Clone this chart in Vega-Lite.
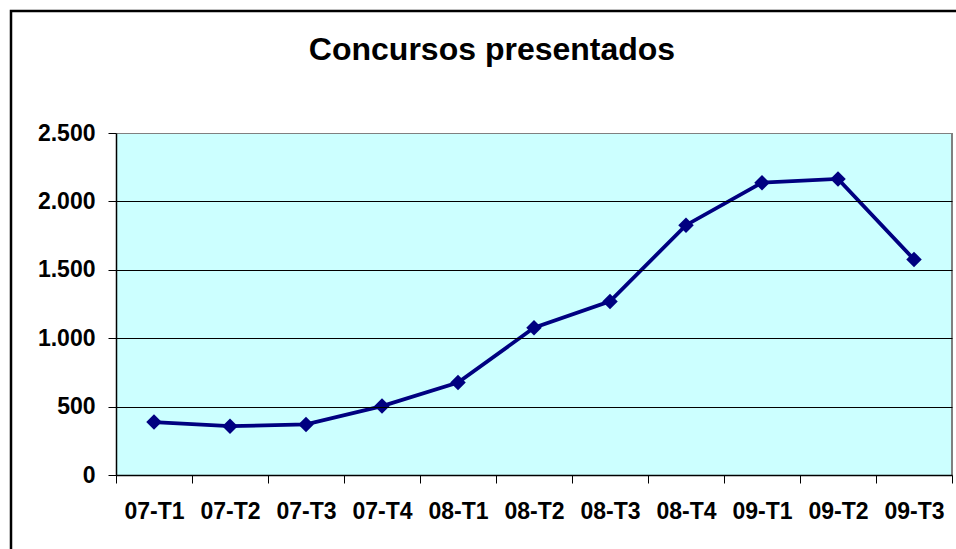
{
  "$schema": "https://vega.github.io/schema/vega-lite/v6.json",
  "width": 950,
  "height": 548,
  "autosize": {"type": "none"},
  "padding": {"left": 11, "top": 11, "right": -5, "bottom": -10},
  "background": "white",
  "config": {
    "view": {"stroke": "black", "strokeWidth": 2.5},
    "font": "Liberation Sans"
  },
  "title": {
    "text": "Concursos presentados",
    "font": "Liberation Sans",
    "fontSize": 32,
    "fontWeight": "bold",
    "color": "black",
    "anchor": "middle",
    "frame": "group",
    "baseline": "alphabetic",
    "offset": -81,
    "dx": 6
  },
  "data": {
    "values": [
      {"cat": "07-T1", "value": 387},
      {"cat": "07-T2", "value": 357},
      {"cat": "07-T3", "value": 370},
      {"cat": "07-T4", "value": 504},
      {"cat": "08-T1", "value": 676},
      {"cat": "08-T2", "value": 1076},
      {"cat": "08-T3", "value": 1269},
      {"cat": "08-T4", "value": 1826},
      {"cat": "09-T1", "value": 2137},
      {"cat": "09-T2", "value": 2164},
      {"cat": "09-T3", "value": 1576}
    ]
  },
  "encoding": {
    "x": {
      "field": "cat",
      "type": "nominal",
      "sort": null,
      "scale": {"range": [105, 941], "paddingInner": 0, "paddingOuter": 0},
      "axis": {
        "title": null,
        "orient": "bottom",
        "offset": -84,
        "zindex": 1,
        "labelAngle": 0,
        "labelFont": "Liberation Sans",
        "labelFontSize": 23,
        "labelFontWeight": "bold",
        "labelColor": "black",
        "labelPadding": 17,
        "tickBand": "extent",
        "tickSize": 8,
        "tickColor": "black",
        "tickWidth": 1,
        "domainColor": "black",
        "domainWidth": 1.5,
        "grid": false
      }
    }
  },
  "layer": [
    {
      "mark": {"type": "rect", "fill": "#CCFFFF", "stroke": null},
      "encoding": {
        "y": {"datum": 0, "type": "quantitative"},
        "y2": {"datum": 2500}
      }
    },
    {
      "mark": {"type": "rule", "color": "#808080", "strokeWidth": 1.5},
      "encoding": {
        "x": {"datum": "09-T3", "bandPosition": 1},
        "y": {"datum": 0, "type": "quantitative"},
        "y2": {"datum": 2500}
      }
    },
    {
      "mark": {"type": "line", "color": "#000080", "strokeWidth": 3.8},
      "encoding": {
        "y": {
          "field": "value",
          "type": "quantitative",
          "scale": {"domain": [0, 2500], "range": [464, 122], "nice": false},
          "axis": {
            "title": null,
            "orient": "left",
            "offset": -105,
            "zindex": 1,
            "values": [0, 500, 1000, 1500, 2000, 2500],
            "labelExpr": "replace(format(datum.value, ','), ',', '.')",
            "labelFont": "Liberation Sans",
            "labelFontSize": 23,
            "labelFontWeight": "bold",
            "labelColor": "black",
            "labelPadding": 13,
            "tickSize": 8,
            "tickColor": "black",
            "tickWidth": 1,
            "domainColor": "black",
            "domainWidth": 1.5,
            "grid": true,
            "gridWidth": 1,
            "gridColor": {"condition": {"test": "datum.value === 2500", "value": "#808080"}, "value": "black"}
          }
        }
      }
    },
    {
      "mark": {"type": "point", "shape": "diamond", "filled": true, "size": 240, "color": "#000080", "opacity": 1},
      "encoding": {
        "y": {"field": "value", "type": "quantitative"}
      }
    }
  ]
}
